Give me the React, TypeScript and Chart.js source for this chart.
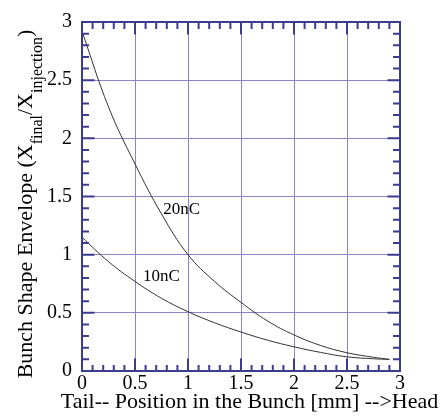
import React, { useEffect, useRef } from "react";
import { Chart, registerables } from "chart.js";

Chart.register(...registerables);

// Data
const xValues = [0, 0.25, 0.5, 0.75, 1.0, 1.25, 1.5, 1.75, 2.0, 2.25, 2.5, 2.75, 2.9];
const y20nC = [2.92, 2.27, 1.78, 1.35, 1.0, 0.77, 0.59, 0.43, 0.31, 0.22, 0.157, 0.118, 0.1];
const y10nC = [1.15, 0.94, 0.77, 0.625, 0.51, 0.415, 0.335, 0.265, 0.208, 0.16, 0.122, 0.105, 0.1];

const seriesNames = ["20nC", "10nC"];
// label anchor points in data units (x, y)
const labelX = [0.94, 0.75];
const labelY = [1.385, 0.81];

const xTitle = "Tail-- Position in the Bunch [mm] -->Head";
const yTitleParts = [
  { t: "Bunch Shape Envelope (X", sub: false },
  { t: "final", sub: true },
  { t: "/X", sub: false },
  { t: "injection", sub: true },
  { t: ")", sub: false },
];

const FRAME = "#3b3b8f";
const GRID = "#8c84c8";
const FONT = "'Liberation Serif', 'Times New Roman', serif";

const decorPlugin = {
  id: "decor",
  afterDraw(chart: any) {
    const { ctx, chartArea } = chart;
    const { left, right, top, bottom } = chartArea;
    const xs = chart.scales.x;
    const ys = chart.scales.y;
    ctx.save();
    // minor/major inward ticks
    ctx.strokeStyle = FRAME;
    ctx.lineWidth = 2;
    ctx.beginPath();
    for (let i = 1; i < 30; i++) {
      const v = i / 10;
      const major = i % 5 === 0;
      const len = major ? 12.5 : 7;
      const px = xs.getPixelForValue(v);
      const py = ys.getPixelForValue(v);
      ctx.moveTo(px, bottom);
      ctx.lineTo(px, bottom - (major ? len : 6));
      ctx.moveTo(px, top);
      ctx.lineTo(px, top + len);
      ctx.moveTo(left, py);
      ctx.lineTo(left + len, py);
      ctx.moveTo(right, py);
      ctx.lineTo(right - len, py);
    }
    ctx.stroke();
    ctx.strokeRect(left, top, right - left, bottom - top);

    // series labels
    ctx.fillStyle = "#000";
    ctx.font = `17px ${FONT}`;
    ctx.textAlign = "center";
    ctx.textBaseline = "middle";
    for (let i = 0; i < seriesNames.length; i++) {
      ctx.fillText(seriesNames[i], xs.getPixelForValue(labelX[i]), ys.getPixelForValue(labelY[i]));
    }

    // x title
    ctx.font = `22px ${FONT}`;
    ctx.textAlign = "center";
    ctx.textBaseline = "alphabetic";
    ctx.fillText(xTitle, 249.5, 408);

    // y title with subscripts
    const mainFont = `22px ${FONT}`;
    const subFont = `16px ${FONT}`;
    let total = 0;
    for (const p of yTitleParts) {
      ctx.font = p.sub ? subFont : mainFont;
      total += ctx.measureText(p.t).width;
    }
    const cy = 204;
    ctx.translate(31.5, cy);
    ctx.rotate(-Math.PI / 2);
    ctx.textAlign = "left";
    let x = -total / 2;
    for (const p of yTitleParts) {
      ctx.font = p.sub ? subFont : mainFont;
      ctx.fillText(p.t, x, p.sub ? 10 : 0);
      x += ctx.measureText(p.t).width;
    }
    ctx.restore();
  },
};

export default function App() {
  const ref = useRef<HTMLCanvasElement | null>(null);
  useEffect(() => {
    if (!ref.current) return;
    const mk = (ys: number[]) => xValues.map((x, i) => ({ x, y: ys[i] }));
    const chart = new Chart(ref.current, {
      type: "line",
      data: {
        datasets: [
          {
            label: seriesNames[0],
            data: mk(y20nC),
            borderColor: "#333333",
            borderWidth: 1,
            pointRadius: 0,
            tension: 0.4,
            fill: false,
          },
          {
            label: seriesNames[1],
            data: mk(y10nC),
            borderColor: "#333333",
            borderWidth: 1,
            pointRadius: 0,
            tension: 0.4,
            fill: false,
          },
        ],
      },
      options: {
        animation: false,
        responsive: false,
        devicePixelRatio: 1,
        layout: { padding: { top: 22, right: 45, left: 0, bottom: 0 } },
        plugins: { legend: { display: false }, tooltip: { enabled: false } },
        scales: {
          x: {
            type: "linear",
            min: 0,
            max: 3,
            grid: { color: GRID, lineWidth: 1, drawTicks: false },
            border: { display: false },
            ticks: {
              stepSize: 0.5,
              padding: 1,
              color: "#000",
              font: { family: FONT, size: 20 },
              maxRotation: 0,
              callback: (v: any) => String(v),
            },
            afterFit: (s: any) => {
              s.height = 45;
            },
          },
          y: {
            type: "linear",
            min: 0,
            max: 3,
            grid: { color: GRID, lineWidth: 1, drawTicks: false },
            border: { display: false },
            ticks: {
              stepSize: 0.5,
              padding: 10,
              color: "#000",
              font: { family: FONT, size: 20 },
              callback: (v: any) => String(v),
            },
            afterFit: (s: any) => {
              s.width = 82;
            },
          },
        },
      },
      plugins: [decorPlugin],
    });
    return () => chart.destroy();
  }, []);
  return (
    <div style={{ position: "fixed", left: 0, top: 0, width: 445, height: 416, background: "#fff" }}>
      <canvas ref={ref} width={445} height={416} style={{ width: 445, height: 416 }} />
    </div>
  );
}
